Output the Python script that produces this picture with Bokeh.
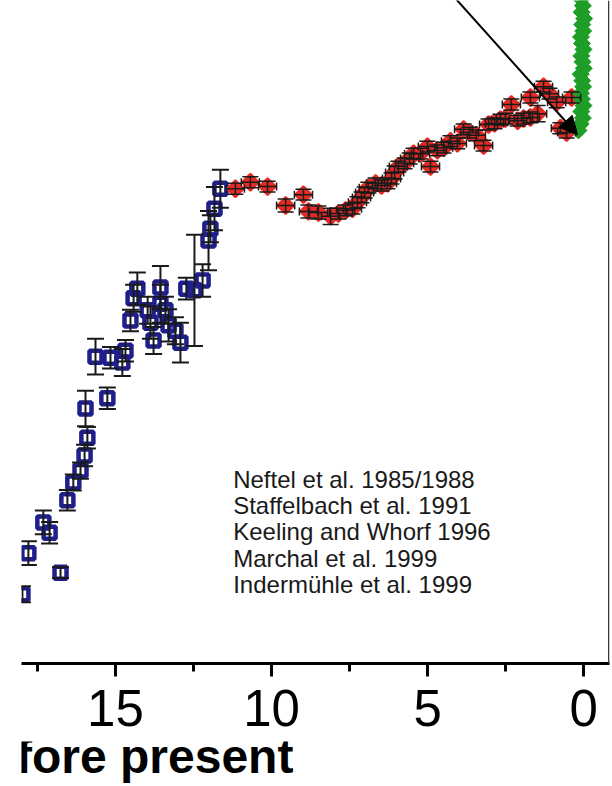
from bokeh.plotting import figure
from bokeh.layouts import column
from bokeh.models import (Range1d, FixedTicker, ColumnDataSource, Whisker, TeeHead,
                          Arrow, NormalHead, Span, Label)
from bokeh.embed import file_html
from bokeh.resources import INLINE
import numpy as np

# ---------------- data (ka BP, ppm) ----------------
blue_age = [17.98, 17.79, 17.31, 17.11, 16.76, 16.54, 16.35, 16.12, 15.99, 15.90,
            15.96, 15.26, 15.64, 15.16, 14.78, 14.68, 14.52, 14.42, 14.30, 13.97,
            13.88, 13.78, 13.56, 13.56, 13.40, 13.30, 13.08, 12.92, 12.73, 12.47,
            12.21, 12.02, 11.96, 11.83, 11.64]
blue_co2 = [189.3, 196.9, 202.6, 200.7, 193.3, 206.7, 210.0, 212.2, 215.0, 218.3,
            223.7, 225.6, 233.3, 233.1, 232.2, 234.4, 240.0, 244.1, 245.9, 241.9,
            239.6, 236.3, 246.1, 243.1, 241.9, 239.1, 238.1, 235.9, 245.9, 245.6,
            247.4, 254.8, 257.0, 260.7, 264.4]
blue_err = [1.5, 2.2, 2.2, 2.0, 1.0, 1.9, 1.5, 1.5, 2.0, 2.0,
            3.3, 2.0, 3.3, 2.0, 2.5, 2.0, 2.0, 2.5, 3.0, 2.5,
            3.0, 2.5, 4.0, 3.5, 2.5, 3.0, 2.5, 3.7, 2.0, 10.3,
            3.0, 5.5, 2.5, 4.0, 3.5]

red_age = [11.16, 10.68, 10.13, 9.55, 8.98, 8.82, 8.50, 8.11, 7.86, 7.63,
           7.41, 7.25, 7.12, 7.02, 6.90, 6.67, 6.48, 6.29, 6.16, 6.06,
           5.94, 5.74, 5.58, 5.45, 5.23, 5.01, 4.91, 4.69, 4.49, 4.27,
           4.05, 3.85, 3.66, 3.44, 3.21, 3.05, 2.86, 2.67, 2.51, 2.32,
           2.12, 1.93, 1.71, 1.71, 1.48, 1.29, 1.10, 0.87, 0.75, 0.55, 0.39]
red_co2 = [264.4, 265.6, 264.8, 261.3, 263.3, 260.2, 260.0, 259.3, 259.8, 260.4,
           260.7, 261.9, 262.8, 263.7, 264.6, 265.4, 265.0, 265.4, 266.3, 267.4,
           268.5, 269.1, 270.0, 270.9, 270.9, 272.2, 268.5, 271.5, 272.0, 273.2,
           272.8, 275.4, 274.8, 274.3, 272.4, 276.3, 276.5, 277.2, 277.4, 280.0,
           277.0, 277.4, 277.6, 281.3, 278.3, 283.3, 282.0, 280.4, 275.6, 274.8, 281.3]
red_err = [1.0, 1.0, 1.0, 1.2, 1.0, 1.2, 1.2, 1.5, 1.0, 1.0,
           1.0, 1.0, 1.0, 1.0, 1.0, 1.0, 1.0, 1.0, 1.0, 1.2,
           1.0, 1.0, 1.0, 1.0, 1.0, 1.0, 1.0, 1.0, 1.0, 1.0,
           1.0, 1.0, 1.0, 1.0, 1.0, 1.0, 1.0, 1.0, 1.0, 1.0,
           1.0, 1.0, 1.0, 1.0, 1.5, 1.0, 1.0, 1.0, 1.0, 1.0, 1.0]
red_age_err = 0.29

green_age = [0.17, 0.10, 0.03, 0.08, 0.01, 0.06, 0.09, 0.02, 0.05, 0.10,
             0.00, 0.04, 0.08, 0.01, 0.06, 0.09, 0.02, 0.05, -0.01, 0.07,
             0.03, 0.08, 0.00, 0.05, 0.02]
green_co2 = [275.2, 276.4, 277.5, 278.7, 279.8, 281.0, 282.1, 283.3, 284.4, 285.6,
             286.7, 287.9, 289.0, 290.2, 291.3, 292.5, 293.6, 294.8, 295.9, 297.1,
             298.3, 299.5, 302.0, 306.0, 312.0]

legend_labels = ["Neftel et al. 1985/1988", "Staffelbach et al. 1991",
                 "Keeling and Whorf 1996", "Marchal et al. 1999",
                 "Indermühle et al. 1999"]
x_ticks = [15, 10, 5, 0]
x_minor_ticks = [17.5, 12.5, 7.5, 2.5]
x_title = "Thousands of years before present"

FONT = "Liberation Sans"
BLUE = "#1f1f8c"
RED = "#e52b25"
GREEN = "#1f9e27"
BAR = "#1a1a1a"

# ---------------- main figure ----------------
p = figure(width=612, height=741, output_backend="svg", toolbar_location=None,
           title=None,
           x_range=Range1d(18.01, -0.823), y_range=Range1d(176.48, 299.26),
           min_border_left=21, min_border_right=3, min_border_top=0,
           min_border_bottom=78, y_axis_location=None, outline_line_color=None)
p.grid.visible = False
p.background_fill_color = "white"
p.border_fill_color = "white"

ax = p.xaxis[0]
ax.ticker = FixedTicker(ticks=x_ticks, minor_ticks=x_minor_ticks)
ax.axis_line_width = 3
ax.axis_line_color = "black"
ax.major_tick_line_width = 3
ax.major_tick_line_color = "black"
ax.major_tick_out = 13
ax.major_tick_in = 0
ax.minor_tick_line_width = 3
ax.minor_tick_line_color = "black"
ax.minor_tick_out = 8
ax.minor_tick_in = 0
ax.major_label_text_font = FONT
ax.major_label_text_font_size = "51px"
ax.major_label_text_color = "black"
ax.major_label_standoff = 13

# right frame border
p.add_layout(Span(location=-0.80, dimension="height", line_color="#333333", line_width=1.5))

# ---------------- blue squares ----------------
b = np.array(blue_co2)
be = np.array(blue_err)
bsrc = ColumnDataSource(dict(x=blue_age, y=blue_co2, lo=b - be, hi=b + be))
p.scatter("x", "y", source=bsrc, marker="square", size=12, line_width=4.5,
          line_color=BLUE, fill_color=None)
p.add_layout(Whisker(base="x", lower="lo", upper="hi", source=bsrc, dimension="height",
                     level="annotation", line_color=BAR, line_width=2,
                     lower_head=TeeHead(size=17, line_width=2, line_color=BAR),
                     upper_head=TeeHead(size=17, line_width=2, line_color=BAR)))

# ---------------- red diamonds ----------------
r = np.array(red_co2)
re_ = np.array(red_err)
ra = np.array(red_age)
rsrc = ColumnDataSource(dict(x=red_age, y=red_co2, lo=r - re_, hi=r + re_,
                             alo=ra - red_age_err, ahi=ra + red_age_err))
p.scatter("x", "y", source=rsrc, marker="square", angle=np.pi / 4, size=12,
          line_color=RED, line_width=2, fill_color=RED)
p.add_layout(Whisker(base="y", lower="alo", upper="ahi", source=rsrc, dimension="width",
                     level="annotation", line_color=BAR, line_width=1.5,
                     lower_head=TeeHead(size=8, line_width=1.5, line_color=BAR),
                     upper_head=TeeHead(size=8, line_width=1.5, line_color=BAR)))
p.add_layout(Whisker(base="x", lower="lo", upper="hi", source=rsrc, dimension="height",
                     level="annotation", line_color=BAR, line_width=1.5,
                     lower_head=TeeHead(size=16, line_width=1.5, line_color=BAR),
                     upper_head=TeeHead(size=16, line_width=1.5, line_color=BAR)))

# ---------------- green diamonds ----------------
p.scatter(green_age, green_co2, marker="square", angle=np.pi / 4, size=12,
          line_color=GREEN, line_width=1, fill_color=GREEN)

# ---------------- arrow ----------------
p.add_layout(Arrow(end=NormalHead(size=18, fill_color="black", line_color="black"),
                   x_start=4.91, y_start=304.8, x_end=0.20, y_end=274.4,
                   line_width=2, line_color="black"))

# ---------------- legend text ----------------
leg_x = 11.23
leg_y0 = 210.55
leg_dy = 4.85
for i, t in enumerate(legend_labels):
    p.add_layout(Label(x=leg_x, y=leg_y0 - i * leg_dy, text=t, text_font=FONT,
                       text_font_size="24px", text_color="#1a1a1a",
                       text_align="left", text_baseline="alphabetic"))

# ---------------- axis title strip (cropped at left, as in the source) ----------------
p2 = figure(width=612, height=45, output_backend="svg", toolbar_location=None,
            title=None,
            x_range=Range1d(0, 612), y_range=Range1d(45, 0),
            min_border_left=0, min_border_right=0, min_border_top=0, min_border_bottom=0,
            x_axis_location=None, y_axis_location=None, outline_line_color=None)
p2.grid.visible = False
p2.add_layout(Label(x=283, y=15, text=x_title, text_font=FONT,
                    text_font_size="48px", text_font_style="bold", text_color="black",
                    text_align="right", text_baseline="alphabetic"))

layout = column(p, p2, spacing=0)
open("out.html", "w").write(file_html(layout, INLINE))
